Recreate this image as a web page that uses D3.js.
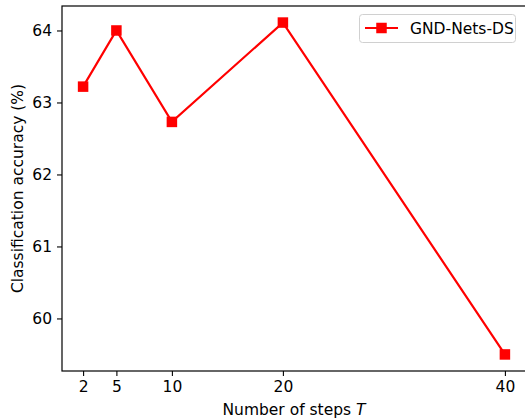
<!DOCTYPE html>
<html><head><meta charset="utf-8">
<script src="https://cdn.jsdelivr.net/npm/d3@7"></script>
<style>body{margin:0;background:#fff}svg{display:block}text{font-family:"DejaVu Sans",sans-serif}</style>
</head><body>
<script>
const steps = [2, 5, 10, 20, 40];
const accuracy = [63.22, 64.0, 62.73, 64.11, 59.5];
const xTicks = [2, 5, 10, 20, 40];
const yTicks = [60, 61, 62, 63, 64];
const seriesName = "GND-Nets-DS";

const W = 525, H = 419;
const L = 62, R = 526, T = 6, B = 371;
const FS = 15.5;
const svg = d3.select("body").append("svg").attr("width", W).attr("height", H);

const xs = d3.scaleLinear().domain([0.1, 41.9]).range([L, R]);
const ys = d3.scaleLinear().domain([59.27, 64.34]).range([B, T]);

// axes
const xAxis = svg.append("g").attr("transform", `translate(0,${B})`)
  .call(d3.axisBottom(xs).tickValues(xTicks).tickSize(5).tickPadding(5).tickFormat(d3.format("d")));
const yAxis = svg.append("g").attr("transform", `translate(${L},0)`)
  .call(d3.axisLeft(ys).tickValues(yTicks).tickSize(5).tickPadding(5).tickFormat(d3.format("d")));
[xAxis, yAxis].forEach(g => {
  g.select(".domain").remove();
  g.attr("font-size", FS).attr("font-family", "DejaVu Sans");
  g.selectAll("text").attr("fill", "#000");
  g.selectAll("line").attr("stroke", "#000").attr("stroke-width", 1.1);
});

// frame
svg.append("rect").attr("x", L).attr("y", T).attr("width", R - L).attr("height", B - T)
  .attr("fill", "none").attr("stroke", "#000").attr("stroke-width", 1.2);

// line
const line = d3.line().x((d, i) => xs(steps[i])).y(d => ys(d));
svg.append("path").datum(accuracy).attr("d", line).attr("fill", "none")
  .attr("stroke", "#ff0000").attr("stroke-width", 2.2);
const ms = 10.5;
svg.selectAll("rect.m").data(accuracy).enter().append("rect").attr("class", "m")
  .attr("x", (d, i) => xs(steps[i]) - ms / 2).attr("y", d => ys(d) - ms / 2)
  .attr("width", ms).attr("height", ms).attr("fill", "#ff0000");

// labels
svg.append("text").attr("x", 294).attr("y", 415).attr("text-anchor", "middle")
  .attr("font-size", FS).attr("fill", "#000")
  .html('Number of steps <tspan font-style="italic">T</tspan>');
svg.append("text").attr("transform", `translate(23,${(T + B) / 2}) rotate(-90)`)
  .attr("text-anchor", "middle").attr("font-size", FS).attr("fill", "#000")
  .text("Classification accuracy (%)");

// legend
const lg = svg.append("g");
lg.append("rect").attr("x", 359.5).attr("y", 14.5).attr("width", 156).attr("height", 28)
  .attr("rx", 3).attr("fill", "#fff").attr("fill-opacity", 0.8).attr("stroke", "#d0d0d0");
lg.append("line").attr("x1", 365).attr("x2", 398).attr("y1", 28).attr("y2", 28)
  .attr("stroke", "#ff0000").attr("stroke-width", 2.2);
lg.append("rect").attr("x", 381.5 - ms / 2).attr("y", 28 - ms / 2).attr("width", ms).attr("height", ms)
  .attr("fill", "#ff0000");
lg.append("text").attr("x", 410).attr("y", 33.5).attr("font-size", FS).attr("fill", "#000").text(seriesName);
</script>
</body></html>
